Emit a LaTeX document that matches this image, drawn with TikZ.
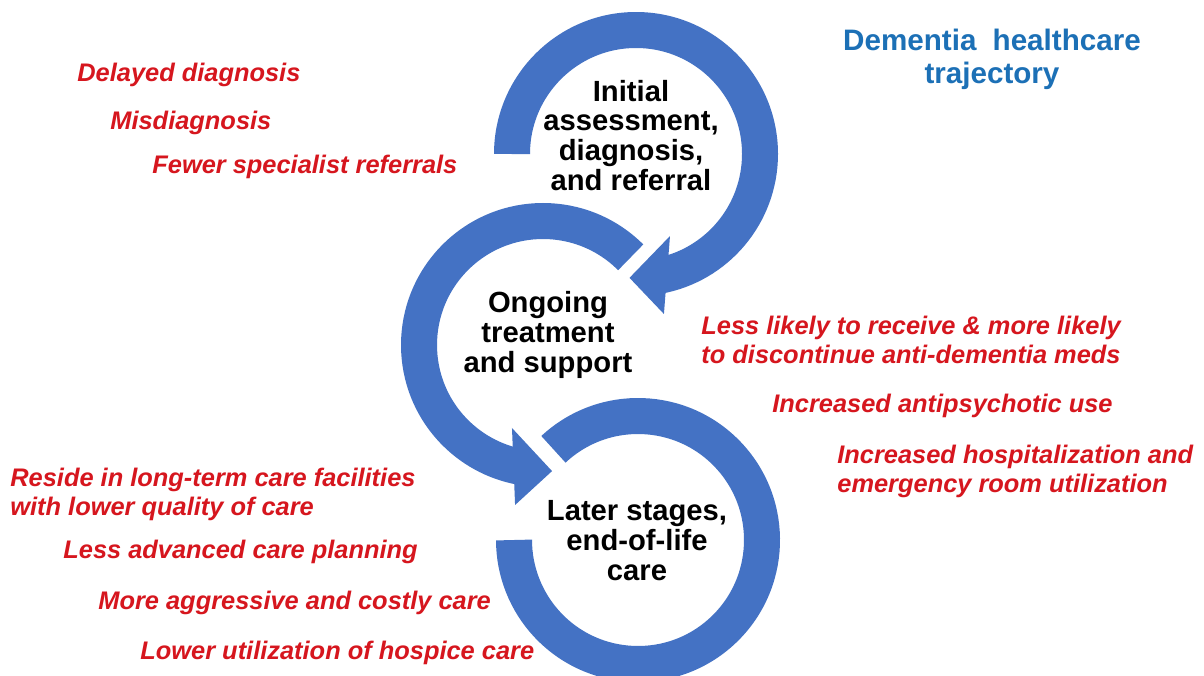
\documentclass[tikz,border=0pt]{standalone}
\usepackage{fontspec}
\setmainfont{Liberation Sans}
\definecolor{arcblue}{HTML}{4472C4}
\definecolor{effectred}{RGB}{214,22,30}
\definecolor{titleblue}{RGB}{28,112,182}
\newcommand\Rmid{62pt}
\tikzset{
  band/.style={
    draw = arcblue,
    line width = 18pt,
    line cap = butt
  },
  head/.style={
    fill = arcblue
  },
  stage/.style={
    font = \bfseries\fontsize{14.6}{14.8}\selectfont,
    align = center,
    anchor = base,
    inner sep = 0pt
  },
  effect/.style={
    font = \bfseries\itshape\fontsize{12.7}{14.5}\selectfont,
    text = effectred,
    align = left,
    anchor = base west,
    inner sep = 0pt
  },
  heading/.style={
    font = \bfseries\fontsize{14.8}{16.5}\selectfont,
    text = titleblue,
    align = center,
    anchor = base,
    inner sep = 0pt
  }
}

\begin{document}
\begin{tikzpicture}[x=0.5pt, y=0.5pt]
  \useasboundingbox[fill=white] (0,0) rectangle (1204,-675);

  % centres of the three loops
  \coordinate (initc) at (636,-154);
  \coordinate (ongoc) at (543,-345);
  \coordinate (laterc) at (638,-540);

  % loop 1, clockwise, head pointing into loop 2
  \draw[band] ([shift={(180:\Rmid)}]initc) arc[start angle=180, end angle=-80, radius=\Rmid];
  \fill[head] ([shift={(-93:\Rmid)}]initc) -- ([shift={(-67.5:44.4pt)}]initc)
    -- ([shift={(-80.1:81.2pt)}]initc) -- cycle;

  % loop 2, anticlockwise, head pointing into loop 3
  \draw[band] ([shift={(45:\Rmid)}]ongoc) arc[start angle=45, end angle=262, radius=\Rmid];
  \fill[head] ([shift={(274.1:63.2pt)}]ongoc) -- ([shift={(249.5:44.3pt)}]ongoc)
    -- ([shift={(260.1:81.2pt)}]ongoc) -- cycle;

  % loop 3, open at the left
  \draw[band] ([shift={(133:\Rmid)}]laterc) arc[start angle=133, end angle=-180, radius=\Rmid];

  % stages (base = last line)
  \node[stage] (init) at (631,-190) {Initial\\assessment,\\diagnosis,\\and referral};
  \node[stage] (ongoing) at (548,-372) {Ongoing\\treatment\\and support};
  \node[stage] (later) at (637,-580) {Later stages,\\end-of-life\\care};

  \node[heading] (title) at (992,-83) {Dementia\hspace{4pt} healthcare\\trajectory};

  % disparities, stage 1
  \node[effect] (delay) at (77,-81) {Delayed diagnosis};
  \node[effect] (misdiag) at (110,-129) {Misdiagnosis};
  \node[effect] (referral) at (152,-173) {Fewer specialist referrals};

  % disparities, stage 2
  \node[effect] (meds) at (701,-363) {Less likely to receive \& more likely\\to discontinue anti-dementia meds};
  \node[effect] (antipsy) at (772,-412) {Increased antipsychotic use};
  \node[effect] (hosp) at (837,-492) {Increased hospitalization and\\emergency room utilization};

  % disparities, stage 3
  \node[effect] (ltc) at (10,-515) {Reside in long-term care facilities\\with lower quality of care};
  \node[effect] (acp) at (63,-558) {Less advanced care planning};
  \node[effect] (aggr) at (98,-609) {More aggressive and costly care};
  \node[effect] (hospice) at (140,-659) {Lower utilization of hospice care};
\end{tikzpicture}
\end{document}
